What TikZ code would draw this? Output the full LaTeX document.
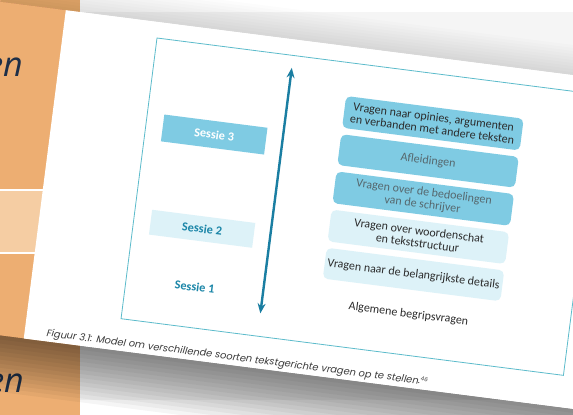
\documentclass[tikz,border=0pt]{standalone}
\usepackage{fontspec}
\setmainfont{Carlito}
\newfontfamily\capfont{Poppins}
\newfontfamily\bigfont{Open Sans}
\usetikzlibrary{arrows.meta}
\definecolor{orangebg}{HTML}{EDAE72}
\definecolor{peach}{HTML}{F5CDA3}
\definecolor{navy}{HTML}{1E2F48}
\definecolor{midblue}{HTML}{7FCBE3}
\definecolor{lightblue}{HTML}{DDF2F8}
\definecolor{tealtxt}{HTML}{1B86A8}
\definecolor{framec}{HTML}{5CBBCB}
\definecolor{arrowc}{HTML}{1A7EA2}
\definecolor{darktxt}{HTML}{2B2B2B}
\definecolor{fadetxt}{HTML}{56676D}
\definecolor{captxt}{HTML}{3A3A3A}
\tikzset{
  qbox/.style={draw=none, rounded corners=5pt, minimum width=179pt, align=center,
    inner sep=0pt, font=\fontsize{12}{12.4}\selectfont, transform shape},
  darkq/.style={qbox, fill=midblue},
  lightq/.style={qbox, fill=lightblue, text=darktxt},
  sessbox/.style={minimum width=104pt, inner sep=0pt, font=\bfseries\fontsize{12.3}{13}\selectfont, transform shape},
  bigen/.style={anchor=base east, inner sep=0pt, text=navy, font=\bigfont\itshape\fontsize{34}{34}\selectfont},
}
\begin{document}
\begin{tikzpicture}[x=1pt,y=-1pt]
\useasboundingbox (0,0) rectangle (573,415);
\begin{scope}
\clip (0,0) rectangle (573,415);
% background
\fill[white!96!black] (0,0) rectangle (573,415);
\fill[white] (80,0) rectangle (573,12);
\fill[white] (80,400) rectangle (573,415);
\fill[orangebg] (0,0) rectangle (80,415);
\fill[peach] (0,190) rectangle (80,253);
\draw[white, line width=1.5pt] (0,190) -- (80,190);
\draw[white, line width=1.5pt] (0,253) -- (80,253);
\node[bigen] (en1) at (23,76) {en};
\node[bigen] (en2) at (24,392) {en};
% page
\begin{scope}[shift={(157,38)}, rotate=-7.3]
  \foreach \k in {1,...,14} {
    \fill[black, opacity=0.04] (-160,315) rectangle (700,315+4*\k);
  }
  \foreach \k in {1,...,10} {
    \fill[black, opacity=0.012] (-160,-16) rectangle (700,-16-3*\k);
  }
  \fill[white] (-94,-16) rectangle (700,315);
  \draw[framec, line width=0.8pt] (0,0) rectangle (446,283);
  % arrow
  \coordinate (atop) at (137.5,12.5);
  \coordinate (abot) at (137.5,260);
  \draw[arrowc, line width=2.4pt, {Stealth[length=10pt,width=8pt]}-{Stealth[length=10pt,width=8pt]}] (abot) -- (atop);
  % sessions
  \node[sessbox, fill=midblue, text=white, minimum height=27pt] (s3) at (69,88.5) {Sessie 3};
  \node[sessbox, fill=lightblue, text=tealtxt, minimum height=25pt] (s2) at (69,183.5) {Sessie 2};
  \node[sessbox, text=tealtxt] (s1) at (69,242) {Sessie 1};
  % questions
  \node[darkq, text=darktxt, minimum height=32pt] (q1) at (284.5,49.5) {Vragen naar opinies, argumenten\\en verbanden met andere teksten};
  \node[darkq, text=fadetxt, minimum height=31pt] (q2) at (284.5,87.5) {Afleidingen};
  \node[darkq, text=fadetxt, minimum height=32pt] (q3) at (284.5,125.5) {Vragen over de bedoelingen\\van de schrijver};
  \node[lightq, minimum height=32pt] (q4) at (284.5,164) {Vragen over woordenschat\\en tekststructuur};
  \node[lightq, minimum height=31pt] (q5) at (284.5,202) {Vragen naar de belangrijkste details};
  \node[qbox, text=darktxt] (q6) at (284.5,242) {Algemene begripsvragen};
  % caption
  \node[anchor=base west, inner sep=0pt, text=captxt, transform shape,
        font=\capfont\itshape\fontsize{9.8}{11}\selectfont] (cap) at (-72,310)
    {Figuur 3.1: Model om verschillende soorten tekstgerichte vragen op te stellen.\textsuperscript{\fontsize{5.5}{6}\selectfont 46}};
\end{scope}
\end{scope}
\end{tikzpicture}
\end{document}
